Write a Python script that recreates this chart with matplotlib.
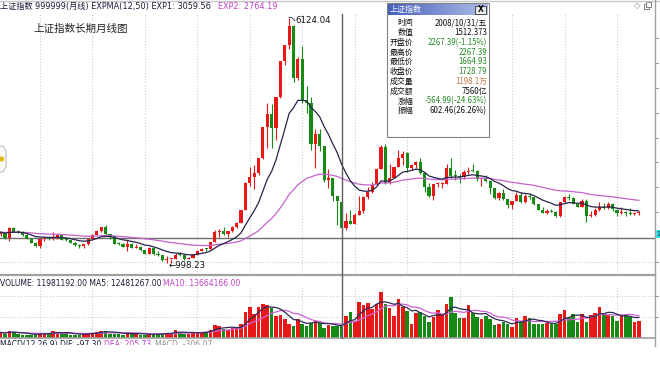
import matplotlib
matplotlib.use('Agg')
import matplotlib.pyplot as plt
import numpy as np
import pandas as pd
from matplotlib.patches import Rectangle, Polygon, Circle

plt.rcParams['font.family'] = ['Noto Sans CJK SC', 'DejaVu Sans']

# monthly bars of the Shanghai Composite, 2002-04 .. 2014-06
months = pd.period_range('2002-04', '2014-06', freq='M')
opens = [1602, 1640, 1515, 1733, 1653, 1650, 1581, 1507, 1422,
         1357, 1499, 1511, 1510, 1521, 1576, 1487, 1476, 1422, 1367, 1348, 1397,
         1497, 1590, 1675, 1741, 1595, 1555, 1399, 1386, 1342, 1396, 1320, 1340,
         1266, 1191, 1306, 1181, 1159, 1060, 1080, 1083, 1162, 1155, 1092, 1099,
         1161, 1258, 1299, 1298, 1440, 1641, 1672, 1612, 1658, 1753, 1837, 2099,
         2675, 2786, 2881, 3183, 3841, 4109, 3820, 4471, 5218, 5552, 5954, 4871,
         5262, 4383, 4348, 3473, 3693, 3433, 2736, 2775, 2397, 2267.39, 1728, 1871,
         1821, 1991, 2082, 2373, 2477, 2633, 2959, 3412, 2667, 2779, 2996, 3195,
         3289, 2989, 3051, 3110, 2871, 2592, 2398, 2638, 2639, 2656, 2979, 2820,
         2808, 2791, 2905, 2928, 2911, 2743, 2762, 2701, 2568, 2359, 2469, 2333,
         2199, 2292, 2428, 2262, 2396, 2373, 2225, 2103, 2047, 2086, 2069, 1980,
         2269, 2385, 2365, 2237, 2178, 2301, 1979, 1994, 2098, 2175, 2141, 2220,
         2112, 2033, 2056, 2033, 2026, 2039]
highs = [1670, 1651, 1748, 1748, 1694, 1667, 1600, 1530, 1445,
         1507, 1531, 1532, 1649, 1592, 1591, 1517, 1486, 1433, 1392, 1400, 1498,
         1604, 1685, 1760, 1783, 1612, 1575, 1442, 1420, 1470, 1406, 1390, 1346,
         1269, 1329, 1307, 1248, 1168, 1147, 1090, 1202, 1224, 1158, 1126, 1181,
         1262, 1306, 1306, 1440, 1684, 1700, 1757, 1658, 1773, 1845, 2102, 2698,
         2994, 3050, 3196, 3841, 4335, 4311, 4472, 5219, 5559, 6124.04, 5972, 5306,
         5522, 4695, 4473, 3786, 3786, 3434, 2953, 2783, 2398, 2267.39, 2051, 2100,
         2038, 2402, 2403, 2580, 2688, 2990, 3454, 3478, 3068, 3005, 3361, 3328,
         3306, 3071, 3129, 3181, 2875, 2670, 2654, 2698, 2688, 3064, 3186, 2940,
         2853, 2943, 3001, 3067, 2930, 2772, 2827, 2706, 2571, 2480, 2536, 2342,
         2302, 2478, 2477, 2430, 2461, 2386, 2240, 2174, 2130, 2130, 2085, 2276,
         2394, 2444, 2366, 2261, 2335, 2334, 2093, 2149, 2270, 2243, 2273, 2260,
         2120, 2177, 2093, 2146, 2061, 2087]
lows = [1557, 1495, 1455, 1636, 1625, 1572, 1498, 1408, 1340,
        1311, 1468, 1481, 1486, 1500, 1480, 1453, 1412, 1355, 1307, 1316, 1370,
        1492, 1583, 1644, 1583, 1497, 1386, 1368, 1330, 1259, 1304, 1302, 1259,
        1177, 1185, 1166, 1135, 1043, 998.23, 1004, 1076, 1141, 1067, 1074, 1095,
        1159, 1250, 1245, 1297, 1438, 1550, 1580, 1541, 1650, 1724, 1827, 2095,
        2605, 2541, 2834, 3167, 3405, 3404, 3563, 4450, 5124, 5462, 4778, 4812,
        4330, 4123, 3357, 2990, 3333, 2693, 2566, 2284, 1802, 1664.93, 1678, 1814,
        1820, 1991, 2037, 2337, 2461, 2631, 2959, 2639, 2639, 2779, 2994, 3039,
        2890, 2934, 2990, 2861, 2482, 2382, 2319, 2579, 2573, 2650, 2772, 2721,
        2661, 2745, 2853, 2904, 2710, 2610, 2696, 2437, 2333, 2307, 2319, 2149,
        2132, 2287, 2242, 2252, 2345, 2214, 2100, 2041, 2029, 2058, 1959, 1949,
        2259, 2323, 2228, 2161, 2176, 1849, 1951, 1986, 2081, 2123, 2117, 2088,
        1985, 2025, 1974, 1997, 1991, 1991]
closes = [1641, 1515, 1732, 1653, 1650, 1581, 1507, 1422, 1357,
          1499, 1511, 1510, 1521, 1576, 1487, 1476, 1422, 1367, 1348, 1397, 1497,
          1590, 1675, 1741, 1595, 1555, 1399, 1386, 1342, 1396, 1320, 1340, 1266,
          1191, 1306, 1181, 1159, 1060, 1080, 1083, 1162, 1155, 1092, 1099, 1161,
          1258, 1299, 1298, 1440, 1641, 1672, 1612, 1658, 1753, 1837, 2099, 2675,
          2786, 2881, 3183, 3841, 4109, 3820, 4471, 5218, 5552, 5954, 4871, 5262,
          4383, 4348, 3473, 3693, 3433, 2736, 2775, 2397, 2293.78, 1728.79, 1871, 1821,
          1991, 2082, 2373, 2477, 2633, 2959, 3412, 2667, 2779, 2996, 3195, 3277,
          2989, 3051, 3110, 2871, 2592, 2398, 2638, 2639, 2656, 2979, 2820, 2808,
          2791, 2905, 2928, 2911, 2743, 2762, 2701, 2568, 2359, 2469, 2333, 2199,
          2292, 2428, 2262, 2396, 2373, 2225, 2103, 2047, 2086, 2069, 1980, 2269,
          2385, 2365, 2237, 2178, 2301, 1979, 1994, 2098, 2175, 2141, 2220, 2116,
          2033, 2056, 2033, 2026, 2039, 2048]
# volume, 10k lots
volumes = [500, 400, 700, 500, 400, 300, 300, 300, 300,
           500, 350, 400, 700, 550, 400, 400, 300, 300, 300, 350, 450,
           500, 550, 650, 700, 400, 400, 350, 300, 550, 350, 400, 300,
           250, 350, 350, 400, 400, 500, 400, 800, 550, 400, 350, 450,
           550, 600, 600, 800, 1300, 1200, 900, 800, 1000, 1000, 1400, 2600,
           3100, 2400, 3100, 3400, 3300, 3000, 2200, 2300, 1900, 1400, 1200, 1900,
           1400, 1200, 1500, 1700, 1500, 1000, 1300, 1200, 1200, 1198, 2200, 2600,
           1700, 3600, 3300, 3500, 2900, 3400, 4600, 3400, 3000, 2200, 3900, 3100,
           2700, 1400, 2500, 2600, 2200, 1600, 2100, 2800, 2400, 3400, 4100, 2500,
           2000, 2000, 3300, 2500, 2100, 1900, 2200, 1900, 1300, 1400, 1600, 1400,
           1100, 2000, 1600, 2200, 2000, 1400, 1400, 1400, 1500, 1400, 1400, 2400,
           2800, 2000, 2400, 1600, 2400, 1600, 2300, 2500, 3100, 2400, 2300, 2200,
           1700, 2200, 2400, 2100, 1600, 1700]

cross_idx = 78          # 2008/10
cross_value = 1512.373

RED = '#e81818'
GREEN = '#158a15'
W, H = 660, 392
X0, DX = 0.66, 4.371          # pixel of first bar, pixels per month
Y_LOW, K = 263.0, 0.04789     # pixel row of the low, pixels per point

fig = plt.figure(figsize=(W / 100, H / 100), dpi=100)
fig.patch.set_facecolor('white')

def px_axes(x0, y0, x1, y1, z=1):
    a = fig.add_axes([x0 / W, 1 - y1 / H, (x1 - x0) / W, (y1 - y0) / H], zorder=z)
    a.set_axis_off()
    return a

o = np.array(opens, float)
h = np.array(highs, float)
l = np.array(lows, float)
c = np.array(closes, float)
v = np.array(volumes, float)
x = np.arange(len(c))
colors = np.where(c >= o, RED, GREEN)
jan = [i for i, m in enumerate(months) if m.month == 1]
lo = l.min()
latin = ['DejaVu Sans', 'Noto Sans CJK SC']

# ---- price panel
ax = px_axes(0, 14, 655, 275)
ax.set_xlim(-X0 / DX, (655 - X0) / DX)
ax.set_ylim(lo - (275 - Y_LOW) / K, lo + (Y_LOW - 14) / K)
for k in range(10):
    ax.axhline(lo + (Y_LOW - 261.5 - 24.8 * k) / K, color='#c4c4c4', lw=0.7, ls=(0, (1, 2)), zorder=0)
for j in jan:
    ax.axvline(j, color='#c4c4c4', lw=0.7, ls=(0, (1, 2)), zorder=0)
ax.axhline(cross_value, color='#707070', lw=1, zorder=1)

ax.vlines(x, l, h, colors=colors, lw=0.8, zorder=2)
ax.bar(x, np.maximum(np.abs(c - o), 1 / K), bottom=np.minimum(o, c), width=0.72,
       color=colors, linewidth=0, zorder=3)

ema12 = pd.Series(c).ewm(span=12, adjust=False).mean()
ema50 = pd.Series(c).ewm(span=50, adjust=False).mean()
ax.plot(x, ema50, color='#c462cc', lw=0.9, zorder=4)
ax.plot(x, ema12, color='#24244a', lw=0.9, zorder=4)

ih, il = int(h.argmax()), int(l.argmin())
ax.plot([ih, ih + 0.6, ih + 1.3], [h[ih], h[ih], h[ih] - 70], color='#333333', lw=0.6, zorder=5)
ax.text(ih + 1.5, h[ih] - 55, f'{h[ih]:.2f}', fontsize=6.2, va='center', ha='left',
        color='#111111', family=latin)
ax.text(il + 0.3, l[il] - 60, f'←{l[il]:.2f}', fontsize=6.2, va='center', ha='left',
        color='#111111', family=latin)

# ---- volume panel
av = px_axes(0, 286, 655, 337.5)
av.set_xlim(-X0 / DX, (655 - X0) / DX)
av.set_ylim(0, (337.5 - 286) * 100)
for yv in (2050, 4150):
    av.axhline(yv, color='#c4c4c4', lw=0.7, ls=(0, (1, 2)), zorder=0)
for j in jan:
    av.axvline(j, color='#c4c4c4', lw=0.7, ls=(0, (1, 2)), zorder=0)
av.bar(x, v, width=0.82, color=colors, linewidth=0, zorder=2)
av.plot(x, pd.Series(v).rolling(10, min_periods=1).mean(), color='#d060d8', lw=0.9, zorder=3)
av.plot(x, pd.Series(v).rolling(5, min_periods=1).mean(), color='#2a2a55', lw=0.9, zorder=3)

# ---- overlay in pixel coordinates
ov = px_axes(0, 0, W, H, z=5)
ov.set_xlim(0, W)
ov.set_ylim(H, 0)

gray = '#a0a0a0'
ov.plot([0, W], [0.5, 0.5], color='#c8c8c8', lw=1)
ov.plot([0, 655], [275, 275], color=gray, lw=1.6)
ov.plot([0, 655], [338, 338], color=gray, lw=1.2)
ov.plot([655, 655], [0, 346], color=gray, lw=1)
for yy in [38.3 + 24.8 * k for k in range(10)] + [296, 317]:
    ov.plot([655, 658], [yy, yy], color=gray, lw=0.8)
cx = X0 + DX * cross_idx
ov.plot([cx, cx], [14, 338], color='#606060', lw=1)

hdr = dict(fontsize=5.9, va='center', ha='left', family=latin)
ov.text(0, 6.5, '上证指数 999999(月线) EXPMA(12,50) EXP1: 3059.56', color='#1a1a3a', **hdr)
ov.text(218, 6.5, 'EXP2: 2764.19', color='#c040c8', **hdr)
vh = dict(fontsize=5.5, va='center', ha='left', family=latin)
ov.text(0, 283.5, 'VOLUME: 11981192.00 MA5: 12481267.00', color='#1a1a3a', **vh)
ov.text(163, 283.5, 'MA10: 13664166.00', color='#c040c8', **vh)
ov.text(33, 28.5, '上证指数长期月线图', fontsize=7.6, va='center', ha='left', color='#222222')

# MACD header, cut off by the window edge
am = px_axes(0, 338.8, 655, 344.5, z=6)
am.set_xlim(0, 655)
am.set_ylim(344.5, 338.8)
mh = dict(fontsize=5.5, va='top', ha='left', clip_on=True, family=latin)
am.text(0, 339.8, 'MACD(12,26,9) DIF: -97.30', color='#1a1a3a', **mh)
am.text(104, 339.8, 'DEA: 205.73', color='#c040c8', **mh)
am.text(155, 339.8, 'MACD: -306.07', color='#909090', **mh)

# info box
ov.add_patch(Rectangle((387, 3), 102, 134, facecolor='white', edgecolor='#808080', lw=0.8, zorder=10))
grad = np.linspace(0, 1, 100)[None, :, None]
left_c = np.array([70, 96, 186]) / 255
right_c = np.array([176, 190, 232]) / 255
ov.imshow(left_c + (right_c - left_c) * grad, extent=(388, 488, 15, 4), aspect='auto', zorder=11)
ov.set_xlim(0, W)
ov.set_ylim(H, 0)
ov.text(390, 9.6, '上证指数', fontsize=5.8, color='white', va='center', ha='left', zorder=12)
ov.add_patch(Rectangle((475, 5.5), 11, 8.5, facecolor='#ececec', edgecolor='#303030', lw=0.6, zorder=12))
ov.text(480.5, 9.8, 'X', fontsize=5.5, fontweight='bold', color='#111111', va='center', ha='center',
        zorder=13, family=['DejaVu Sans'])

rows = [('时间', '2008/10/31/五', '#111111'),
        ('数值', '1512.373', '#111111'),
        ('开盘价', '2267.39(-1.15%)', '#2a8a2a'),
        ('最高价', '2267.39', '#2a8a2a'),
        ('最低价', '1664.93', '#2a8a2a'),
        ('收盘价', '1728.79', '#2a8a2a'),
        ('成交量', '1198.1万', '#c07848'),
        ('成交额', '7560亿', '#111111'),
        ('涨幅', '-564.99(-24.63%)', '#2a8a2a'),
        ('振幅', '602.46(26.26%)', '#111111')]
for r, (lab, val, col) in enumerate(rows):
    yy = 22.7 + 9.8 * r
    ov.text(413.5, yy, lab, fontsize=5.7, color='#111111', va='center', ha='right', zorder=12)
    ov.text(487, yy, val, fontsize=5.7, color=col, va='center', ha='right', zorder=12)

# small window widgets
ov.add_patch(Polygon([(-3, 146), (3, 146), (6, 151), (6, 167), (3, 172), (-3, 172)],
                     closed=True, facecolor='#fafaf4', edgecolor='#c0c0c0', lw=0.8, zorder=10))
ov.add_patch(Circle((1.5, 159), 1.8, color='#e0b800', zorder=11))
ov.text(637, 6, '◇', fontsize=6, color='#808080', va='center', ha='center', family=['DejaVu Sans'])
ov.add_patch(Rectangle((644, 3.5), 5, 5, facecolor='white', edgecolor='#808080', lw=0.7))
ov.add_patch(Rectangle((646, 2), 5, 5, facecolor='white', edgecolor='#808080', lw=0.7))
ov.add_patch(Rectangle((655.5, 230), 5, 8, facecolor='#40e0e8', edgecolor='none', zorder=10))
ov.text(658, 234, '1', fontsize=5, color='#103030', va='center', ha='center', zorder=11)

fig.savefig('out.png', dpi=100, facecolor='white')
